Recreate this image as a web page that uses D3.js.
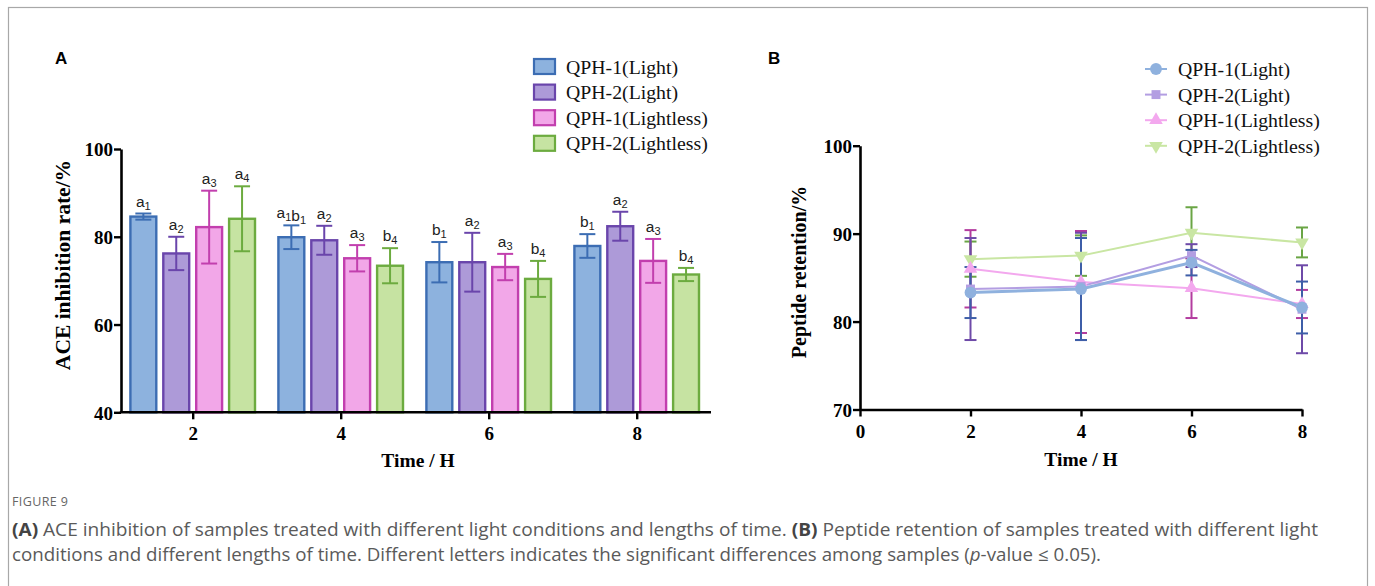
<!DOCTYPE html>
<html>
<head>
<meta charset="utf-8">
<script src="https://cdn.jsdelivr.net/npm/d3@7"></script>
<style>
  html, body { margin: 0; padding: 0; background: #fff; }
  svg { display: block; }
</style>
</head>
<body>
<svg id="chart" width="1375" height="586"></svg>
<script>
// ---------- DATA ----------
const series = ["QPH-1(Light)", "QPH-2(Light)", "QPH-1(Lightless)", "QPH-2(Lightless)"];
const timesA = [2, 4, 6, 8];
// Panel A: ACE inhibition rate (%), mean and SD per series per time
const aceQ1Light      = [84.6, 79.9, 74.2, 77.9];
const aceQ2Light      = [76.2, 79.2, 74.2, 82.4];
const aceQ1Lightless  = [82.2, 75.1, 73.1, 74.5];
const aceQ2Lightless  = [84.1, 73.4, 70.4, 71.4];
const aceErrQ1Light     = [0.7, 2.7, 4.6, 2.7];
const aceErrQ2Light     = [3.8, 3.3, 6.7, 3.3];
const aceErrQ1Lightless = [8.3, 3.0, 3.0, 5.0];
const aceErrQ2Lightless = [7.4, 4.0, 4.1, 1.5];
// significance letters: [letter, subscript]
const lettersA = [
  [["a","1"]], [["a","2"]], [["a","3"]], [["a","4"]],
  [["a","1"],["b","1"]], [["a","2"]], [["a","3"]], [["b","4"]],
  [["b","1"]], [["a","2"]], [["a","3"]], [["b","4"]],
  [["b","1"]], [["a","2"]], [["a","3"]], [["b","4"]]
];
const yTicksA = [40, 60, 80, 100];

// Panel B: Peptide retention (%)
const timesB = [2, 4, 6, 8];
const xTicksB = [0, 2, 4, 6, 8];
const yTicksB = [70, 80, 90, 100];
const pepQ1Light      = [83.3, 83.7, 86.7, 81.6];
const pepQ2Light      = [83.7, 84.0, 87.5, 81.4];
const pepQ1Lightless  = [86.0, 84.5, 83.8, 82.0];
const pepQ2Lightless  = [87.1, 87.5, 90.1, 89.0];
const pepErrQ1Light     = [2.9, 5.8, 1.45, 2.95];
const pepErrQ2Light     = [5.8, 6.1, 1.3, 5.0];
const pepErrQ1Lightless = [4.4, 5.8, 3.4, 1.6];
const pepErrQ2Lightless = [2.0, 2.3, 2.9, 1.7];

// ---------- STYLE ----------
const barFill   = ["#8db2de", "#ad9ad8", "#f2a7e8", "#c6e3a2"];
const barStroke = ["#3c6db3", "#6a45ab", "#c23fae", "#6cab3f"];
const lineCol   = ["#8fb1de", "#b39ee2", "#f3a8ee", "#c9e6a3"];
const errCol    = ["#3e5ea8", "#6e4aa8", "#b33c9f", "#6aa545"];
const serif = "'Liberation Serif', 'Times New Roman', serif";
const sans  = "'Liberation Sans', Arial, sans-serif";

const svg = d3.select("#chart");

// frame
svg.append("rect").attr("x", 8.5).attr("y", 7.5).attr("width", 1359).attr("height", 620)
  .attr("fill", "none").attr("stroke", "#a8a8a8").attr("stroke-width", 1.2);

// ---------- PANEL A ----------
const aceVals = [aceQ1Light, aceQ2Light, aceQ1Lightless, aceQ2Lightless];
const aceErrs = [aceErrQ1Light, aceErrQ2Light, aceErrQ1Lightless, aceErrQ2Lightless];

const xA = d3.scalePoint().domain(timesA).range([192.7, 636.7]);
const xInner = d3.scaleBand().domain(d3.range(4)).range([-63.5, 63.5]).paddingInner(0.14);
const yA = d3.scaleLinear().domain([40, 100]).range([412.3, 149]);
const gA = svg.append("g");

const barsData = [];
timesA.forEach((t, ti) => {
  series.forEach((s, si) => {
    barsData.push({t, ti, si, v: aceVals[si][ti], e: aceErrs[si][ti], lab: lettersA[ti * 4 + si]});
  });
});
const cx = d => xA(d.t) + xInner(d.si) + xInner.bandwidth() / 2;

gA.selectAll("rect.bar").data(barsData).join("rect")
  .attr("x", d => xA(d.t) + xInner(d.si) + 1.2)
  .attr("y", d => yA(d.v))
  .attr("width", xInner.bandwidth() - 2.4)
  .attr("height", d => yA(40) - yA(d.v))
  .attr("fill", d => barFill[d.si])
  .attr("stroke", d => barStroke[d.si])
  .attr("stroke-width", 2.4);

// error bars
const eb = gA.selectAll("g.eb").data(barsData).join("g")
  .attr("stroke", d => barStroke[d.si]).attr("stroke-width", 2);
eb.append("line").attr("x1", cx).attr("x2", cx)
  .attr("y1", d => yA(d.v + d.e)).attr("y2", d => yA(d.v - d.e));
eb.append("line").attr("x1", d => cx(d) - 8).attr("x2", d => cx(d) + 8)
  .attr("y1", d => yA(d.v + d.e)).attr("y2", d => yA(d.v + d.e));
eb.append("line").attr("x1", d => cx(d) - 8).attr("x2", d => cx(d) + 8)
  .attr("y1", d => yA(d.v - d.e)).attr("y2", d => yA(d.v - d.e));

// letters
const lt = gA.selectAll("text.sig").data(barsData).join("text")
  .attr("x", cx)
  .attr("y", d => yA(d.v + d.e) - 7)
  .attr("text-anchor", "middle")
  .attr("font-family", sans).attr("font-size", 15.5).attr("fill", "#222");
lt.each(function(d) {
  const el = d3.select(this);
  d.lab.forEach(([l, sub]) => {
    el.append("tspan").text(l);
    el.append("tspan").attr("font-size", 11).attr("dy", 3).text(sub);
    el.append("tspan").attr("dy", -3).text("");
  });
});

// axes A
const gyA = gA.append("g").attr("transform", "translate(121,0)")
  .call(d3.axisLeft(yA).tickValues(yTicksA).tickSize(7).tickSizeOuter(0));
const gxA = gA.append("g").attr("transform", "translate(0,412.3)")
  .call(d3.axisBottom(xA).tickSize(7).tickSizeOuter(0));
gxA.select(".domain").remove();
gxA.append("line").attr("x1", 119.8).attr("x2", 711).attr("y1", 0).attr("y2", 0)
  .attr("stroke", "#000").attr("stroke-width", 2.6);
[gyA, gxA].forEach(g => {
  g.selectAll("path.domain").attr("stroke", "#000").attr("stroke-width", 2.6);
  g.selectAll(".tick line").attr("stroke", "#000").attr("stroke-width", 2.4);
  g.selectAll(".tick text").attr("font-family", serif).attr("font-weight", "bold")
    .attr("font-size", 19).attr("fill", "#000");
});
gyA.selectAll(".tick text").attr("x", -8).attr("dy", "0.36em");
gxA.selectAll(".tick text").attr("y", 13).attr("dy", "0.8em");

gA.append("text").attr("transform", "translate(70,265) rotate(-90)")
  .attr("text-anchor", "middle").attr("font-family", serif).attr("font-weight", "bold")
  .attr("font-size", 21.5).text("ACE inhibition rate/%");
gA.append("text").attr("x", 418).attr("y", 467).attr("text-anchor", "middle")
  .attr("font-family", serif).attr("font-weight", "bold").attr("font-size", 19.5).text("Time / H");
svg.append("text").attr("x", 55).attr("y", 64).attr("font-family", sans)
  .attr("font-weight", "bold").attr("font-size", 17).text("A");

// legend A
const legA = gA.append("g").selectAll("g").data(series).join("g")
  .attr("transform", (d, i) => `translate(534,${59 + i * 25.6})`);
legA.append("rect").attr("width", 21).attr("height", 15)
  .attr("fill", (d, i) => barFill[i]).attr("stroke", (d, i) => barStroke[i]).attr("stroke-width", 2.2);
legA.append("text").attr("x", 32).attr("y", 14.5).attr("font-family", serif)
  .attr("font-size", 19.8).attr("fill", "#111").text(d => d);

// ---------- PANEL B ----------
const pepVals = [pepQ1Light, pepQ2Light, pepQ1Lightless, pepQ2Lightless];
const pepErrs = [pepErrQ1Light, pepErrQ2Light, pepErrQ1Lightless, pepErrQ2Lightless];
const xB = d3.scaleLinear().domain([0, 8]).range([860, 1302]);
const yB = d3.scaleLinear().domain([70, 100]).range([409.5, 145.7]);
const gB = svg.append("g");
const symbols = [d3.symbolCircle, d3.symbolSquare, d3.symbolTriangle, d3.symbolTriangle];
const symSize = [110, 80, 80, 80];
const drawOrder = [3, 2, 1, 0];

drawOrder.forEach(si => {
  const g = gB.append("g").attr("stroke", errCol[si]).attr("stroke-width", 2);
  timesB.forEach((t, ti) => {
    const v = pepVals[si][ti], e = pepErrs[si][ti];
    g.append("line").attr("x1", xB(t)).attr("x2", xB(t)).attr("y1", yB(v + e)).attr("y2", yB(v - e));
    g.append("line").attr("x1", xB(t) - 6).attr("x2", xB(t) + 6).attr("y1", yB(v + e)).attr("y2", yB(v + e));
    g.append("line").attr("x1", xB(t) - 6).attr("x2", xB(t) + 6).attr("y1", yB(v - e)).attr("y2", yB(v - e));
  });
});
const lineGen = d3.line().x((d, i) => xB(timesB[i])).y(d => yB(d));
drawOrder.forEach(si => {
  gB.append("path").datum(pepVals[si]).attr("d", lineGen).attr("fill", "none")
    .attr("stroke", lineCol[si]).attr("stroke-width", si === 0 ? 3 : 2);
});
drawOrder.forEach(si => {
  gB.append("g").selectAll("path").data(pepVals[si]).join("path")
    .attr("d", d3.symbol().type(symbols[si]).size(symSize[si]))
    .attr("transform", (d, i) => `translate(${xB(timesB[i])},${yB(d)})${si === 3 ? " rotate(180)" : ""}`)
    .attr("fill", lineCol[si]);
});

const gyB = gB.append("g").attr("transform", "translate(860,0)")
  .call(d3.axisLeft(yB).tickValues(yTicksB).tickSize(7).tickSizeOuter(0));
const gxB = gB.append("g").attr("transform", "translate(0,409.5)")
  .call(d3.axisBottom(xB).tickValues(xTicksB).tickSize(7).tickSizeOuter(0));
[gyB, gxB].forEach(g => {
  g.selectAll("path.domain").attr("stroke", "#000").attr("stroke-width", 2.6);
  g.selectAll(".tick line").attr("stroke", "#000").attr("stroke-width", 2.4);
  g.selectAll(".tick text").attr("font-family", serif).attr("font-weight", "bold")
    .attr("font-size", 19).attr("fill", "#000");
});
gyB.selectAll(".tick text").attr("x", -8).attr("dy", "0.36em");
gxB.selectAll(".tick text").attr("y", 13).attr("dy", "0.8em");

gB.append("text").attr("transform", "translate(806,272) rotate(-90)")
  .attr("text-anchor", "middle").attr("font-family", serif).attr("font-weight", "bold")
  .attr("font-size", 20).text("Peptide retention/%");
gB.append("text").attr("x", 1081).attr("y", 466).attr("text-anchor", "middle")
  .attr("font-family", serif).attr("font-weight", "bold").attr("font-size", 19.5).text("Time / H");
svg.append("text").attr("x", 768).attr("y", 64).attr("font-family", sans)
  .attr("font-weight", "bold").attr("font-size", 17).text("B");

// legend B
const legB = gB.append("g").selectAll("g").data(series).join("g")
  .attr("transform", (d, i) => `translate(1156,${69 + i * 25.6})`);
legB.append("line").attr("x1", -11).attr("x2", 11).attr("stroke", (d, i) => lineCol[i]).attr("stroke-width", 2);
legB.append("path")
  .attr("d", (d, i) => d3.symbol().type(symbols[i]).size(symSize[i])())
  .attr("transform", (d, i) => i === 3 ? "rotate(180)" : "")
  .attr("fill", (d, i) => lineCol[i]);
legB.append("text").attr("x", 22).attr("y", 7).attr("font-family", serif)
  .attr("font-size", 19.8).attr("fill", "#111").text(d => d);

// ---------- CAPTION ----------
const cap = svg.append("g").attr("font-family", "'Open Sans', 'Noto Sans', sans-serif").attr("fill", "#5a5a5a");
cap.append("text").attr("x", 12).attr("y", 506).attr("font-size", 12.5).attr("letter-spacing", 0.4)
  .attr("fill", "#666").text("FIGURE 9");
const l1 = cap.append("text").attr("x", 12).attr("y", 536).attr("font-size", 17.5)
  .attr("textLength", 1306).attr("lengthAdjust", "spacingAndGlyphs");
l1.append("tspan").attr("font-weight", "bold").attr("fill", "#444").text("(A)");
l1.append("tspan").text(" ACE inhibition of samples treated with different light conditions and lengths of time. ");
l1.append("tspan").attr("font-weight", "bold").attr("fill", "#444").text("(B)");
l1.append("tspan").text(" Peptide retention of samples treated with different light");
const l2 = cap.append("text").attr("x", 12).attr("y", 561).attr("font-size", 17.5)
  .attr("textLength", 1089).attr("lengthAdjust", "spacingAndGlyphs");
l2.append("tspan").text("conditions and different lengths of time. Different letters indicates the significant differences among samples (");
l2.append("tspan").attr("font-style", "italic").text("p");
l2.append("tspan").text("-value \u2264 0.05).");
</script>
</body>
</html>
